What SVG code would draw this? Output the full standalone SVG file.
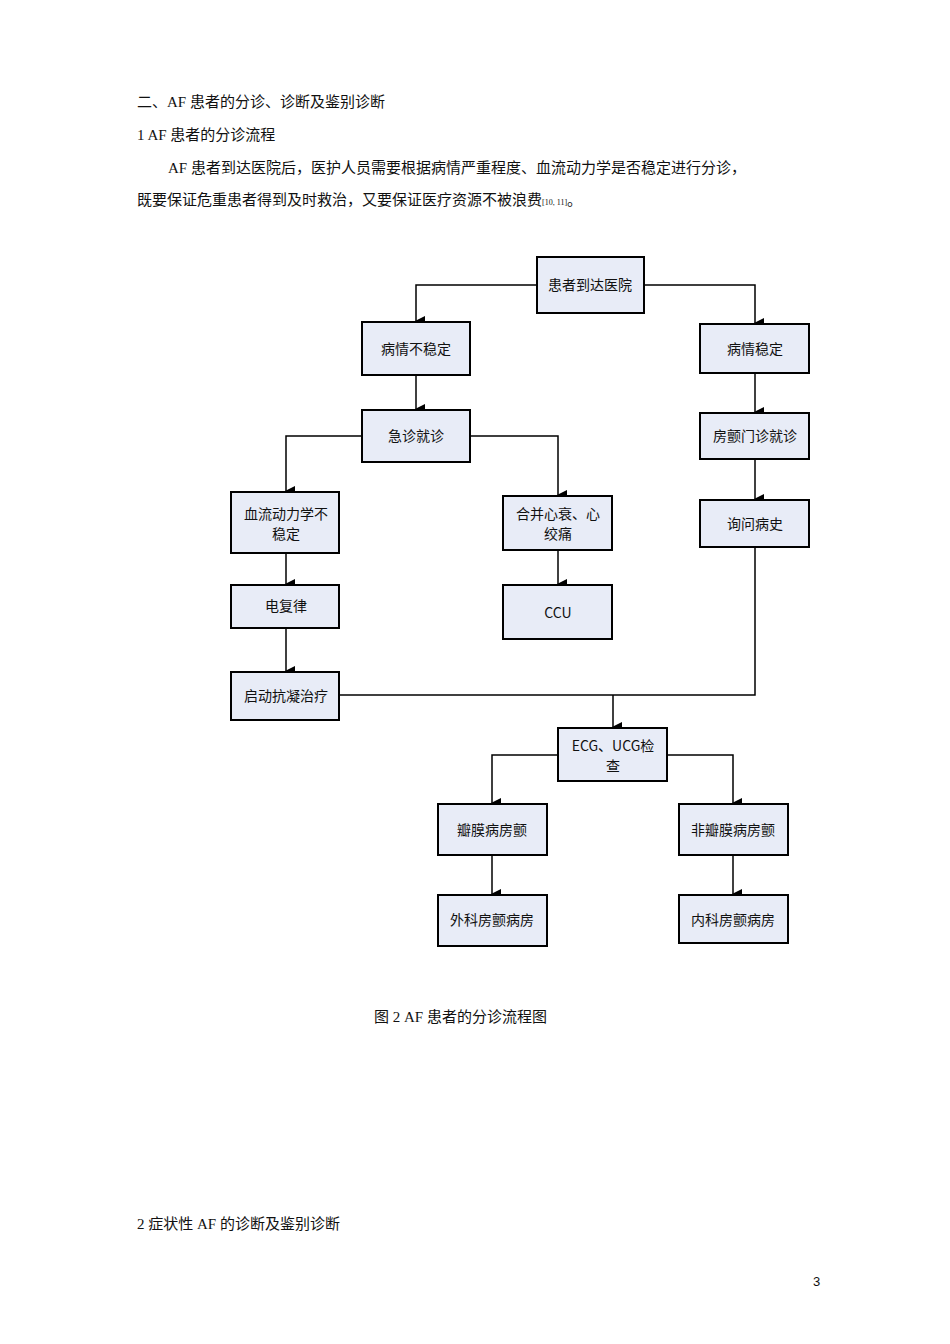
<svg xmlns="http://www.w3.org/2000/svg" width="950" height="1344" viewBox="0 0 950 1344">
<defs>
<marker id="ah" markerWidth="10" markerHeight="10" refX="5" refY="9" orient="auto" markerUnits="userSpaceOnUse" viewBox="0 0 10 10"><path d="M0,0 L10,0 L5,10 Z" fill="#000"/></marker>
</defs>
<style>
.b{fill:#e8ecf7;stroke:#000;stroke-width:2}
.s{fill:#888}
.t{font-family:"Noto Sans CJK SC","Liberation Serif",sans-serif;font-size:14px;text-anchor:middle;fill:#111}
.p{font-family:"Liberation Serif","Noto Sans CJK SC",serif;font-size:15px;fill:#111}
.c{fill:none;stroke:#000;stroke-width:1.5}
.a{fill:none;stroke:#000;stroke-width:1.5;marker-end:url(#ah)}
</style>
<rect width="950" height="1344" fill="#fff"/>
<text class="p" x="137" y="107">二、AF 患者的分诊、诊断及鉴别诊断</text>
<text class="p" x="137" y="140">1   AF 患者的分诊流程</text>
<text class="p" x="168" y="173">AF 患者到达医院后，医护人员需要根据病情严重程度、血流动力学是否稳定进行分诊，</text>
<text class="p" x="137" y="205">既要保证危重患者得到及时救治，又要保证医疗资源不被浪费<tspan font-size="8">[10, 11]</tspan>。</text>
<g id="connectors">
<path class="a" d="M537,285 H416 V321"/>
<path class="a" d="M644,285 H755 V323"/>
<path class="a" d="M416,375 V409"/>
<path class="a" d="M362,436 H286 V491"/>
<path class="a" d="M470,436 H558 V495"/>
<path class="a" d="M286,553 V584"/>
<path class="a" d="M558,550 V584"/>
<path class="a" d="M286,628 V671"/>
<path class="a" d="M755,373 V412"/>
<path class="a" d="M755,459 V499"/>
<path class="c" d="M755,547 V695 H613"/>
<path class="c" d="M339,695 H613"/>
<path class="a" d="M613,695 V727"/>
<path class="a" d="M558,755 H492 V803"/>
<path class="a" d="M667,755 H733 V803"/>
<path class="a" d="M492,855 V894"/>
<path class="a" d="M733,855 V894"/>
</g>
<g id="n1"><rect class="b" x="537" y="257" width="107" height="56"/><text class="t" x="590" y="290">患者到达医院</text></g>
<g id="n2"><rect class="b" x="362" y="322" width="108" height="53"/><text class="t" x="416" y="354">病情不稳定</text></g>
<g id="n3"><rect class="b" x="700" y="324" width="109" height="49"/><text class="t" x="755" y="354">病情稳定</text></g>
<g id="n4"><rect class="b" x="362" y="410" width="108" height="52"/><text class="t" x="416" y="441">急诊就诊</text></g>
<g id="n5"><rect class="b" x="700" y="413" width="109" height="46"/><text class="t" x="755" y="441">房颤门诊就诊</text></g>
<g id="n6"><rect class="b" x="231" y="492" width="108" height="61"/><text class="t" x="286" y="519">血流动力学不</text><text class="t" x="286" y="539">稳定</text></g>
<g id="n7"><rect class="b" x="503" y="496" width="109" height="54"/><text class="t" x="558" y="519">合并心衰、心</text><text class="t" x="558" y="539">绞痛</text></g>
<g id="n8"><rect class="b" x="700" y="500" width="109" height="47"/><text class="t" x="755" y="529">询问病史</text></g>
<g id="n9"><rect class="b" x="231" y="585" width="108" height="43"/><text class="t" x="286" y="611">电复律</text></g>
<g id="n10"><rect class="b" x="503" y="585" width="109" height="54"/><text class="t" x="558" y="618">CCU</text></g>
<g id="n11"><rect class="b" x="231" y="672" width="108" height="48"/><text class="t" x="286" y="701">启动抗凝治疗</text></g>
<g id="n12"><rect class="b" x="558" y="728" width="109" height="53"/><text class="t" x="613" y="751">ECG、UCG检</text><text class="t" x="613" y="771">查</text></g>
<g id="n13"><rect class="b" x="438" y="804" width="109" height="51"/><text class="t" x="492" y="835">瓣膜病房颤</text></g>
<g id="n14"><rect class="b" x="679" y="804" width="109" height="51"/><text class="t" x="733" y="835">非瓣膜病房颤</text></g>
<g id="n15"><rect class="b" x="438" y="895" width="109" height="51"/><text class="t" x="492" y="925">外科房颤病房</text></g>
<g id="n16"><rect class="b" x="679" y="895" width="109" height="48"/><text class="t" x="733" y="925">内科房颤病房</text></g>
<text class="p" x="374" y="1022">图 2   AF 患者的分诊流程图</text>
<text class="p" x="137" y="1229">2   症状性 AF 的诊断及鉴别诊断</text>
<text x="813" y="1286" font-family="Liberation Sans,sans-serif" font-size="13" fill="#111">3</text>
</svg>
